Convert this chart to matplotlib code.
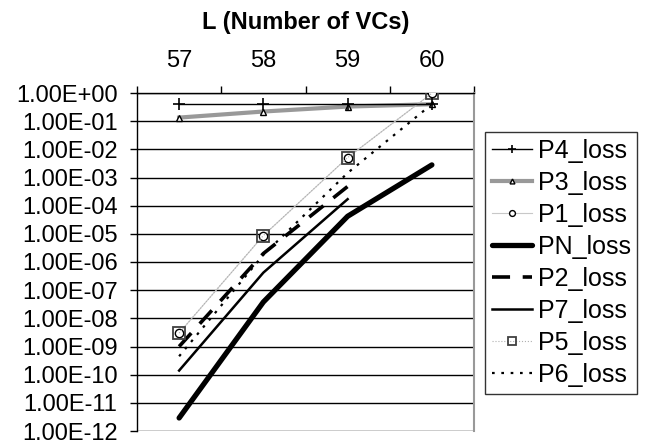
import matplotlib
matplotlib.use("Agg")
import matplotlib.pyplot as plt
from matplotlib.ticker import FixedLocator, FuncFormatter, NullLocator

plt.rcParams['font.family'] = ['Liberation Sans', 'DejaVu Sans']

# number of virtual channels
vcs = [57, 58, 59, 60]

# loss probabilities per policy
p4_loss = [0.4, 0.4, 0.4, 0.4]
p3_loss = [0.134, 0.22, 0.33, 0.4]
p1_loss = [3.0e-9, 8.7e-6, 5.1e-3, 0.98]
pn_loss = [2.9e-12, 3.8e-8, 4.2e-5, 2.8e-3]
p2_loss = [1.0e-9, 2.0e-6, 4.8e-4]
p7_loss = [1.4e-10, 4.2e-7, 1.7e-4]
p5_loss = [3.0e-9, 8.7e-6, 5.1e-3, 0.98]
p6_loss = [4.5e-10, 1.8e-6, 1.45e-3, 0.4]

fig = plt.figure(figsize=(6.45, 4.45), dpi=100)
ax = fig.add_axes([137 / 645, 1 - 431 / 445, (474 - 137) / 645, (431 - 93) / 445])

ax.plot(vcs, p4_loss, color='black', lw=1.0, marker='+', ms=8, mew=1.2, label='P4_loss', zorder=5)
ax.plot(vcs, p3_loss, color='#999999', lw=3.0, marker='^', ms=5, mfc='white', mec='black',
        mew=1.0, label='P3_loss', zorder=4)
ax.plot(vcs, p1_loss, color='#c8c8c8', lw=0.8, marker='o', ms=6, mfc='white', mec='black',
        mew=1.0, label='P1_loss', zorder=4)
ax.plot(vcs, pn_loss, color='black', lw=3.8, solid_capstyle='round', label='PN_loss', zorder=3)
ax.plot(vcs[:3], p2_loss, color='black', lw=2.6, dashes=(5, 3.5), label='P2_loss', zorder=3)
ax.plot(vcs[:3], p7_loss, color='black', lw=1.8, label='P7_loss', zorder=3)
ax.plot(vcs, p5_loss, color='#b0b0b0', lw=0.8, ls=':', marker='s', ms=9, mfc='none', mec='#404040',
        mew=1.3, label='P5_loss', zorder=4)
ax.plot(vcs, p6_loss, color='black', lw=1.6, dashes=(1.2, 3.0), label='P6_loss', zorder=3)

ax.set_yscale('log')
ax.set_ylim(1e-12, 1)
ax.set_xlim(56.5, 60.5)

yt = [10.0 ** -k for k in range(0, 13)]
ax.yaxis.set_major_locator(FixedLocator(yt))
ax.yaxis.set_minor_locator(NullLocator())
ax.yaxis.set_major_formatter(FuncFormatter(lambda v, p: f"{v:.2E}"))
ax.grid(axis='y', color='black', lw=1.0)
ax.set_axisbelow(True)

# category axis on top: ticks between categories, labels at centres
ax.xaxis.tick_top()
ax.xaxis.set_label_position('top')
ax.xaxis.set_major_locator(FixedLocator([56.5, 57.5, 58.5, 59.5, 60.5]))
ax.xaxis.set_major_formatter(FuncFormatter(lambda v, p: ''))
ax.xaxis.set_minor_locator(FixedLocator(vcs))
ax.xaxis.set_minor_formatter(FuncFormatter(lambda v, p: f"{int(round(v))}"))
ax.tick_params(axis='x', which='major', direction='out', length=5, width=1, color='black')
ax.tick_params(axis='x', which='minor', length=0, pad=15, labelsize=17)
ax.tick_params(axis='y', direction='out', length=5, width=1, pad=9, labelsize=17)
ax.set_xlabel('L (Number of VCs)', fontsize=17, fontweight='bold', labelpad=15)

for s in ['left', 'top']:
    ax.spines[s].set_color('black')
    ax.spines[s].set_linewidth(1.0)
ax.spines['right'].set_color('#999999')
ax.spines['right'].set_linewidth(1.5)
ax.spines['bottom'].set_visible(False)

leg = ax.legend(loc='upper left', bbox_to_anchor=(485 / 645, 1 - 394 / 445, (637 - 485) / 645, (394 - 132) / 445),
                bbox_transform=fig.transFigure, mode='expand', fontsize=18, frameon=True, fancybox=False,
                edgecolor='black', borderaxespad=0, handlelength=1.6, handletextpad=0.25,
                labelspacing=0.32, borderpad=0.28, markerscale=0.7)
leg.get_frame().set_linewidth(1.0)

fig.savefig('out.png', dpi=100)
